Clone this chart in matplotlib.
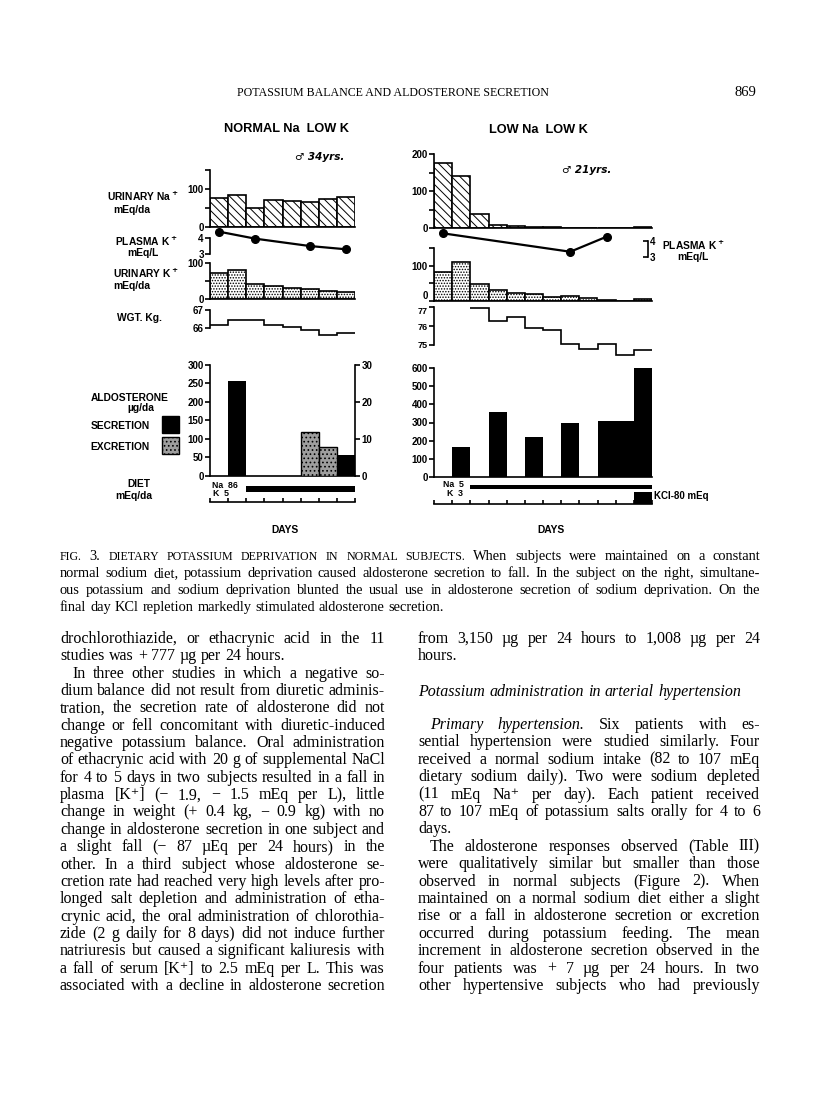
import numpy as np
import matplotlib
matplotlib.use('Agg')
import matplotlib.pyplot as plt
from matplotlib.patches import Rectangle

W, H = 816, 1100

# ---------------- data ----------------
edges_L = np.arange(9)      # left subject, 8 days
edges_R = np.arange(13)     # right subject, 12 days

una_L = [77, 84, 51, 71, 68, 67, 73, 79]
una_R = [177, 141, 40, 9, 6, 4, 4, 2, 2, 1, 1, 4]
uk_L = [71, 80, 42, 35, 30, 27, 23, 20]
uk_R = [81, 111, 49, 31, 23, 21, 12, 15, 9, 4, 1, 6]

pk_day_L = [0.5, 2.5, 5.5, 7.5]
pk_L = [4.37, 3.94, 3.49, 3.29]
pk_day_R = [0.5, 7.5, 9.5]
pk_R = [4.46, 3.31, 4.25]

wgt_L = [66.18, 66.42, 66.42, 66.15, 66.04, 65.89, 65.62, 65.71]
wgt_start_R = 2
wgt_R = [76.95, 76.25, 76.5, 75.92, 75.77, 75.04, 74.77, 75.04, 74.47, 74.73]

sec_day_L = [1, 7]
sec_L = [257, 56]
exc_day_L = [5, 6]
exc_L = [11.9, 7.9]
sec_day_R = [1, 3, 5, 7, 9, 10, 11]
sec_R = [166, 356, 222, 299, 310, 310, 624]

diet_L = (2, 8)
diet_R = (2, 12)
kcl_R = (11, 12)

SANS = ['Liberation Sans', 'DejaVu Sans']
SERIF = ['Liberation Serif', 'DejaVu Serif']
plt.rcParams['font.family'] = SANS
plt.rcParams['font.weight'] = 'bold'
plt.rcParams['hatch.linewidth'] = 0.7
plt.rcParams['mathtext.default'] = 'regular'

fig = plt.figure(figsize=(W / 100, H / 100), dpi=100)


def txt(x, y, s, size=7.4, **kw):
    kw.setdefault('va', 'center')
    return fig.text(x / W, 1 - y / H, s, fontsize=size, **kw)


def panel(x0, x1, xlim, v0, p0, v1, p1, ylim):
    # place an axes so that value v0 lands on pixel row p0 and v1 on p1
    s = (p0 - p1) / (v1 - v0)
    top = p0 - (ylim[1] - v0) * s
    bot = p0 - (ylim[0] - v0) * s
    ax = fig.add_axes([x0 / W, 1 - bot / H, (x1 - x0) / W, (bot - top) / H])
    ax.set_xlim(*xlim)
    ax.set_ylim(*ylim)
    ax.patch.set_alpha(0)
    ax.spines['top'].set_visible(False)
    ax.spines['right'].set_visible(False)
    for sp in ax.spines.values():
        sp.set_linewidth(1.2)
    ax.set_xticks([])
    ax.tick_params(axis='y', direction='out', length=3.5, width=1.2,
                   labelsize=7, pad=1)
    return ax


def yticks(ax, ticks, shown):
    ax.set_yticks(ticks)
    ax.set_yticklabels([str(t) if t in shown else '' for t in ticks])


NA_HATCH = '\\\\\\\\'
K_HATCH = '......'

# ================= LEFT SUBJECT =================
xL0, xL1 = 210, 355

ax = panel(xL0, xL1, (0, 8), 0, 227, 100, 189, (0, 150))
ax.bar(edges_L[:-1], una_L, width=1, align='edge', facecolor='white',
       edgecolor='black', hatch=NA_HATCH, linewidth=1.2)
yticks(ax, [0, 50, 100, 150], [0, 100])

ax = panel(xL0, xL1, (0, 8), 3, 254, 4, 237.7, (2.8, 4.6))
ax.plot(pk_day_L, pk_L, '-o', color='black', lw=1.6, ms=5.5, clip_on=False)
ax.spines['bottom'].set_visible(False)
ax.spines['left'].set_bounds(3, 4)
yticks(ax, [3, 4], [3, 4])

ax = panel(xL0, xL1, (0, 8), 0, 299.3, 100, 262.7, (0, 100))
ax.bar(edges_L[:-1], uk_L, width=1, align='edge', facecolor='white',
       edgecolor='black', hatch=K_HATCH, linewidth=1.2)
yticks(ax, [0, 50, 100], [0, 100])

ax = panel(xL0, xL1, (0, 8), 66, 328, 67, 310, (65.4, 67))
ax.stairs(wgt_L, edges_L, baseline=None, color='black', lw=1.2)
ax.spines['bottom'].set_visible(False)
ax.spines['left'].set_bounds(66, 67)
yticks(ax, [66, 67], [66, 67])

ax = panel(xL0, xL1, (0, 8), 0, 475.7, 300, 365, (0, 300))
ax.bar(sec_day_L, sec_L, width=1, align='edge', color='black')
yticks(ax, list(range(0, 301, 50)), list(range(0, 301, 50)))
ax2 = ax.twinx()
ax2.set_ylim(0, 30)
ax2.patch.set_alpha(0)
ax2.spines['top'].set_visible(False)
ax2.spines['left'].set_visible(False)
ax2.spines['bottom'].set_visible(False)
ax2.spines['right'].set_linewidth(1.2)
ax2.bar(exc_day_L, exc_L, width=1, align='edge', facecolor='0.62',
        edgecolor='black', hatch='....', linewidth=1.0)
ax2.set_yticks([0, 10, 20, 30])
ax2.tick_params(axis='y', direction='out', length=3.5, width=1.2,
                labelsize=7, pad=1)

# diet row + day axis
ax = fig.add_axes([xL0 / W, 1 - 501.7 / H, (xL1 - xL0) / W, 26 / H])
ax.set_xlim(0, 8)
ax.set_ylim(0, 26)
ax.patch.set_alpha(0)
for sp in ['top', 'right', 'left']:
    ax.spines[sp].set_visible(False)
ax.spines['bottom'].set_linewidth(1.2)
ax.barh(12.7, diet_L[1] - diet_L[0], left=diet_L[0], height=6, color='black')
ax.set_yticks([])
ax.set_xticks(edges_L)
ax.set_xticklabels([])
ax.tick_params(axis='x', direction='in', length=3, width=1.2)

# ================= RIGHT SUBJECT =================
xR0, xR1 = 434, 652

ax = panel(xR0, xR1, (0, 12), 0, 228.3, 200, 154.3, (0, 200))
ax.bar(edges_R[:-1], una_R, width=1, align='edge', facecolor='white',
       edgecolor='black', hatch=NA_HATCH, linewidth=1.2)
yticks(ax, [0, 50, 100, 150, 200], [0, 100, 200])

ax = panel(xR0, xR1, (0, 12), 3, 256.7, 4, 240.7, (2.8, 4.7))
ax.plot(pk_day_R, pk_R, '-o', color='black', lw=1.6, ms=5.5, clip_on=False)
ax.spines['bottom'].set_visible(False)
ax.spines['left'].set_visible(False)
ax.spines['right'].set_visible(True)
ax.spines['right'].set_position(('data', 11.78))
ax.spines['right'].set_bounds(3, 4)
ax.spines['right'].set_linewidth(1.2)
ax.yaxis.tick_right()
ax.set_yticks([3, 4])
ax.set_yticklabels(['3', '4'])
ax.tick_params(axis='y', direction='in', length=3.5, width=1.2,
               labelsize=7, pad=1)

ax = panel(xR0, xR1, (0, 12), 0, 301, 100, 265.7, (0, 150))
ax.bar(edges_R[:-1], uk_R, width=1, align='edge', facecolor='white',
       edgecolor='black', hatch=K_HATCH, linewidth=1.2)
yticks(ax, [0, 50, 100, 150], [0, 100])
ax.get_yticklabels()[0].set_verticalalignment('bottom')

ax = panel(xR0, xR1, (0, 12), 75, 345, 77, 307.3, (74.3, 77))
ax.stairs(wgt_R, edges_R[wgt_start_R:], baseline=None, color='black', lw=1.2)
ax.spines['bottom'].set_visible(False)
ax.spines['left'].set_bounds(75, 77)
yticks(ax, [75, 76, 77], [75, 76, 77])
ax.tick_params(axis='y', labelsize=6.6)
ax.get_yticklabels()[-1].set_verticalalignment('top')

ax = panel(xR0, xR1, (0, 12), 0, 476.7, 600, 368.3, (0, 600))
ax.bar(sec_day_R, sec_R, width=1, align='edge', color='black')
yticks(ax, list(range(0, 601, 100)), list(range(0, 601, 100)))

ax = fig.add_axes([xR0 / W, 1 - 503.5 / H, (xR1 - xR0) / W, 26 / H])
ax.set_xlim(0, 12)
ax.set_ylim(0, 26)
ax.patch.set_alpha(0)
for sp in ['top', 'right', 'left']:
    ax.spines[sp].set_visible(False)
ax.spines['bottom'].set_linewidth(1.2)
ax.barh(16.8, diet_R[1] - diet_R[0], left=diet_R[0], height=4, color='black')
ax.bar(kcl_R[0], 11.5, width=kcl_R[1] - kcl_R[0], align='edge', color='black')
ax.set_yticks([])
ax.set_xticks(edges_R)
ax.set_xticklabels([])
ax.tick_params(axis='x', direction='in', length=3, width=1.2)

# ================= chart labels =================
txt(287, 129, 'NORMAL Na  LOW K', size=9.2, ha='center')
txt(538, 130, 'LOW Na  LOW K', size=9.2, ha='center')
txt(295, 157, '\u2642 34yrs.', size=7.5, style='italic', family=['DejaVu Sans'])
txt(562, 170, '\u2642 21yrs.', size=7.5, style='italic', family=['DejaVu Sans'])

txt(107, 196, r'URINARY Na$^{\bf +}$')
txt(113, 210, 'mEq/da')
txt(115, 241, r'PLASMA K$^{\bf +}$')
txt(127, 253, 'mEq/L')
txt(113, 273, r'URINARY K$^{\bf +}$')
txt(113, 286, 'mEq/da')
txt(117, 318, 'WGT. Kg.')
txt(169, 398, 'ALDOSTERONE', ha='right')
txt(141, 408, '\u00b5g/da', ha='center')
txt(150, 426, 'SECRETION', ha='right')
txt(150, 447, 'EXCRETION', ha='right')
fig.add_artist(Rectangle((162 / W, 1 - 433 / H), 17 / W, 17 / H,
                         transform=fig.transFigure, facecolor='black',
                         edgecolor='black'))
fig.add_artist(Rectangle((162 / W, 1 - 454 / H), 17 / W, 17 / H,
                         transform=fig.transFigure, facecolor='0.62',
                         edgecolor='black', hatch='....', lw=1.0))
txt(127, 484, 'DIET')
txt(115, 496, 'mEq/da')
txt(212, 485.5, 'Na  86', size=6.3)
txt(213, 493.5, 'K  5', size=6.3)
txt(443, 484.5, 'Na  5', size=6.3)
txt(447, 493, 'K  3', size=6.3)
txt(654, 496, 'KCl-80 mEq', size=7)
txt(662, 245, r'PLASMA K$^{\bf +}$')
txt(677, 257, 'mEq/L')
txt(285, 530, 'DAYS', ha='center')
txt(551, 530, 'DAYS', ha='center')

# ================= page text =================
txt(393, 93, 'POTASSIUM BALANCE AND ALDOSTERONE SECRETION', size=8.6,
    ha='center', family=SERIF, weight='normal')
txt(745, 92, '869', size=10.5, ha='center', family=SERIF, weight='normal')

renderer = fig.canvas.get_renderer()


def set_line(y, line, x0, x1, size, justify=True, indent=0):
    objs = []
    for w in line.split():
        style, sz, s = 'normal', size, w
        if w.startswith('_'):
            style, s = 'italic', w[1:]
        elif w.startswith('^'):
            sz, s = size * 0.82, w[1:].upper()
        objs.append(fig.text(0, 1 - (y + 4) / H, s, fontsize=sz, style=style,
                             family=SERIF, weight='normal', va='baseline'))
    widths = [t.get_window_extent(renderer).width for t in objs]
    start = x0 + indent
    gap = size * 100 / 72 * 0.27
    if justify and len(objs) > 1:
        gap = (x1 - start - sum(widths)) / (len(objs) - 1)
    x = start
    for t, w in zip(objs, widths):
        t.set_x(x / W)
        x += w + gap


caption = [
    '^Fig. 3.  ^Dietary ^potassium ^deprivation ^in ^normal ^subjects.  When subjects were maintained on a constant',
    'normal sodium diet, potassium deprivation caused aldosterone secretion to fall.  In the subject on the right, simultane-',
    'ous potassium and sodium deprivation blunted the usual use in aldosterone secretion of sodium deprivation.  On the',
    'final day KCl repletion markedly stimulated aldosterone secretion.',
]
for i, line in enumerate(caption):
    set_line(556 + 17 * i, line, 60, 760, 10.4, justify=(i < 3))

left_col = [
    ('drochlorothiazide, or ethacrynic acid in the 11', True, 0),
    ('studies was + 777 \u00b5g per 24 hours.', False, 0),
    ('In three other studies in which a negative so-', True, 12),
    ('dium balance did not result from diuretic adminis-', True, 0),
    ('tration, the secretion rate of aldosterone did not', True, 0),
    ('change or fell concomitant with diuretic-induced', True, 0),
    ('negative potassium balance.  Oral administration', True, 0),
    ('of ethacrynic acid with 20 g of supplemental NaCl', True, 0),
    ('for 4 to 5 days in two subjects resulted in a fall in', True, 0),
    ('plasma [K\u207a] (\u2212 1.9, \u2212 1.5 mEq per L), little', True, 0),
    ('change in weight (+ 0.4 kg, \u2212 0.9 kg) with no', True, 0),
    ('change in aldosterone secretion in one subject and', True, 0),
    ('a slight fall (\u2212 87 \u00b5Eq per 24 hours) in the', True, 0),
    ('other.  In a third subject whose aldosterone se-', True, 0),
    ('cretion rate had reached very high levels after pro-', True, 0),
    ('longed salt depletion and administration of etha-', True, 0),
    ('crynic acid, the oral administration of chlorothia-', True, 0),
    ('zide (2 g daily for 8 days) did not induce further', True, 0),
    ('natriuresis but caused a significant kaliuresis with', True, 0),
    ('a fall of serum [K\u207a] to 2.5 mEq per L.  This was', True, 0),
    ('associated with a decline in aldosterone secretion', True, 0),
]
for i, (line, j, ind) in enumerate(left_col):
    set_line(639 + 17.35 * i, line, 60, 385, 11.5, justify=j, indent=ind)

right_col = [
    (639, 'from 3,150 \u00b5g per 24 hours to 1,008 \u00b5g per 24', True, 0),
    (656.5, 'hours.', False, 0),
    (691.5, '_Potassium _administration _in _arterial _hypertension', False, 0),
    (725, '_Primary _hypertension.  Six patients with es-', True, 12),
    (742.4, 'sential hypertension were studied similarly.  Four', True, 0),
    (759.8, 'received a normal sodium intake (82 to 107 mEq', True, 0),
    (777.2, 'dietary sodium daily).  Two were sodium depleted', True, 0),
    (794.6, '(11 mEq Na\u207a per day).  Each patient received', True, 0),
    (812, '87 to 107 mEq of potassium salts orally for 4 to 6', True, 0),
    (829.4, 'days.', False, 0),
    (846.8, 'The aldosterone responses observed (Table III)', True, 12),
    (864.2, 'were qualitatively similar but smaller than those', True, 0),
    (881.6, 'observed in normal subjects (Figure 2).  When', True, 0),
    (899, 'maintained on a normal sodium diet either a slight', True, 0),
    (916.4, 'rise or a fall in aldosterone secretion or excretion', True, 0),
    (933.8, 'occurred during potassium feeding.  The mean', True, 0),
    (951.2, 'increment in aldosterone secretion observed in the', True, 0),
    (968.6, 'four patients was + 7 \u00b5g per 24 hours.  In two', True, 0),
    (986, 'other hypertensive subjects who had previously', True, 0),
]
for y, line, j, ind in right_col:
    set_line(y, line, 418, 760, 11.5, justify=j, indent=ind)

fig.savefig('out.png', dpi=100)
